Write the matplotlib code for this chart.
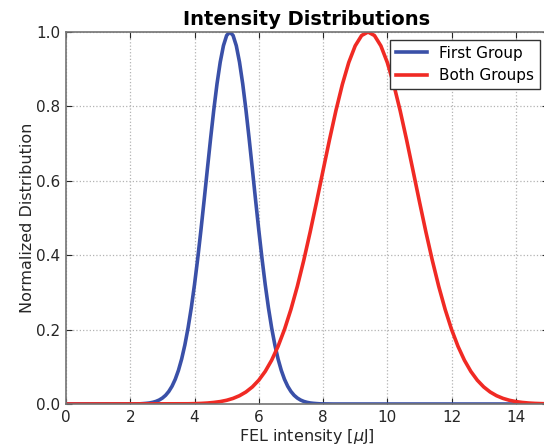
#!/usr/bin/env python3
"""
plot.py
-------
Normalized FEL intensity distributions for the first group and both groups.
"""

import matplotlib
matplotlib.use("Agg")
import matplotlib.pyplot as plt

# ── Data ─────────────────────────────────────────────────────────────────────
first_x = [0.0, 2.1, 2.3, 2.4, 2.5, 2.6, 2.7, 2.8, 2.9, 3.0, 3.1, 3.2, 3.3,
           3.4, 3.5, 3.6, 3.7, 3.8, 3.9, 4.0, 4.1, 4.2, 4.3, 4.4, 4.5, 4.6,
           4.7, 4.8, 4.9, 5.0, 5.1, 5.2, 5.3, 5.4, 5.5, 5.6, 5.7, 5.8, 5.9,
           6.0, 6.1, 6.2, 6.3, 6.4, 6.5, 6.6, 6.7, 6.8, 6.9, 7.0, 7.1, 7.2,
           7.3, 7.4, 7.5, 7.6, 7.7, 7.8, 7.9, 8.1, 8.3, 15.0]
first_y = [0.0, 0.0002, 0.0005, 0.0011, 0.0018, 0.0028, 0.0045, 0.0070,
           0.0107, 0.0160, 0.0234, 0.0338, 0.0478, 0.0664, 0.0905, 0.1211,
           0.1590, 0.2048, 0.2590, 0.3213, 0.3913, 0.4677, 0.5485, 0.6314,
           0.7133, 0.7909, 0.8606, 0.9190, 0.9632, 0.9907, 1.0, 0.9907,
           0.9632, 0.9190, 0.8606, 0.7909, 0.7133, 0.6314, 0.5485, 0.4677,
           0.3913, 0.3213, 0.2590, 0.2048, 0.1590, 0.1211, 0.0905, 0.0664,
           0.0478, 0.0338, 0.0234, 0.0160, 0.0107, 0.0070, 0.0045, 0.0028,
           0.0018, 0.0011, 0.0005, 0.0002, 0.0, 0.0]

both_x = [0.0, 3.8, 4.0, 4.2, 4.4, 4.6, 4.8, 5.0, 5.2, 5.4, 5.6, 5.8, 6.0,
          6.2, 6.4, 6.6, 6.8, 7.0, 7.2, 7.4, 7.6, 7.8, 8.0, 8.2, 8.4, 8.6,
          8.8, 9.0, 9.2, 9.4, 9.6, 9.8, 10.0, 10.2, 10.4, 10.6, 10.8, 11.0,
          11.2, 11.4, 11.6, 11.8, 12.0, 12.2, 12.4, 12.6, 12.8, 13.0, 13.2,
          13.4, 13.6, 13.8, 14.0, 14.2, 14.4, 14.6, 14.8, 15.0]
both_y = [0.0, 0.0006, 0.0010, 0.0016, 0.0026, 0.0042, 0.0065, 0.0100,
          0.0151, 0.0223, 0.0323, 0.0459, 0.0640, 0.0876, 0.1176, 0.1550,
          0.2004, 0.2542, 0.3163, 0.3863, 0.4628, 0.5440, 0.6275, 0.7101,
          0.7884, 0.8588, 0.9180, 0.9627, 0.9905, 1.0, 0.9905, 0.9627,
          0.9180, 0.8588, 0.7884, 0.7101, 0.6275, 0.5440, 0.4628, 0.3863,
          0.3163, 0.2542, 0.2004, 0.1550, 0.1176, 0.0876, 0.0640, 0.0459,
          0.0323, 0.0223, 0.0151, 0.0100, 0.0065, 0.0042, 0.0026, 0.0016,
          0.0010, 0.0006]

x_ticks = [0, 2, 4, 6, 8, 10, 12, 14]
y_ticks = [0.0, 0.2, 0.4, 0.6, 0.8, 1.0]


def main():
    fig = plt.figure(figsize=(5.44, 4.48), dpi=100)
    # right edge of the axes sits just past the figure border, as in the source
    ax = fig.add_axes([0.1213, 0.0982, 0.886, 0.8304])

    ax.plot(first_x, first_y, color="#3a50a8", lw=2.6, label="First Group")
    ax.plot(both_x, both_y, color="#f02a24", lw=2.6, label="Both Groups")

    ax.set_xlim(0, 15)
    ax.set_ylim(0, 1.0)
    ax.set_xticks(x_ticks)
    ax.set_yticks(y_ticks)
    ax.set_yticklabels([f"{v:.1f}" for v in y_ticks])

    ax.tick_params(direction="in", top=True, right=True, length=4,
                   labelsize=11, colors="0.15", pad=4)
    for sp in ax.spines.values():
        sp.set_color("0.45")
        sp.set_linewidth(1.2)

    ax.grid(True, linestyle=":", color="0.7", lw=0.9)

    ax.set_title("Intensity Distributions", fontsize=14, fontweight="bold",
                 pad=5)
    ax.set_xlabel(r"FEL intensity [$\mu$J]", fontsize=11.5, color="0.15",
                  labelpad=2)
    ax.set_ylabel("Normalized Distribution", fontsize=11.5, color="0.15",
                  labelpad=1)

    leg = ax.legend(loc="upper right", fontsize=11, fancybox=False,
                    framealpha=1, edgecolor="0.2", borderaxespad=0.5,
                    handlelength=2.0)
    leg.get_frame().set_linewidth(1.0)

    fig.savefig("out.png", dpi=100)
    plt.close(fig)


if __name__ == "__main__":
    main()
